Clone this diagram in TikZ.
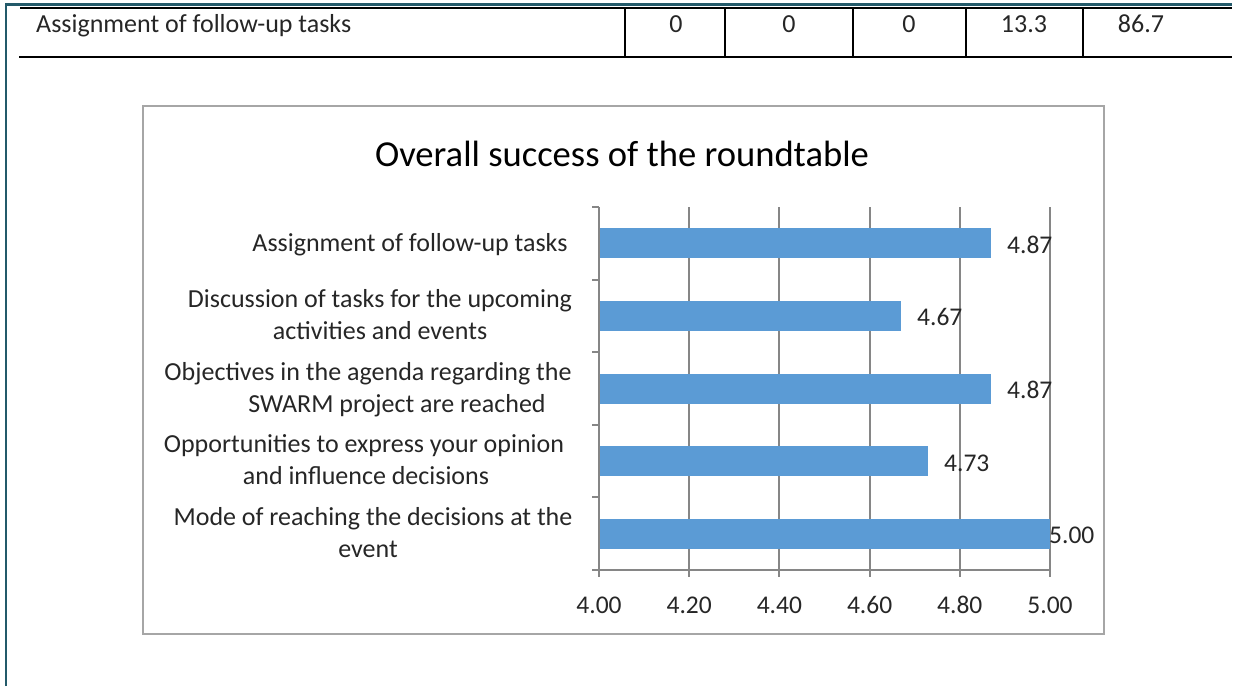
\documentclass[tikz,border=0pt]{standalone}
\usepackage{fontspec}
\setmainfont{Carlito}
\definecolor{teal}{RGB}{35,90,106}
\definecolor{framegray}{RGB}{166,166,166}
\definecolor{axisgray}{RGB}{134,134,134}
\definecolor{barblue}{RGB}{91,155,213}
\definecolor{txt}{RGB}{38,38,38}
\begin{document}
\begin{tikzpicture}[x=1pt,y=-1pt,
  lbl/.style={inner sep=0pt,text=txt,font=\fontsize{26}{30}\selectfont,text height=18,text depth=4},
  num/.style={inner sep=0pt,text=txt,font=\fontsize{25.5}{30}\selectfont,text height=18,text depth=4},
  tbl/.style={inner sep=0pt,text=txt,font=\fontsize{26}{30}\selectfont,text height=18,text depth=4},
  grid/.style={draw=axisgray,line width=2pt},
  tline/.style={draw=black,line width=1.8pt},
  bar/.style={fill=barblue,draw=none}]
\useasboundingbox (0,0) rectangle (1239,686);
% outer page borders
\draw[teal,line width=2.5pt] (6,686) -- (6,4.5) -- (1232,4.5);
% table row
\draw[tline] (20,8) -- (1232,8);
\draw[tline] (19,57) -- (1232,57);
\foreach \x in {625,725,853,966,1083} \draw[tline] (\x,8) -- (\x,57);
\node[tbl,anchor=west] (rowlbl) at (36,25) {Assignment of follow-up tasks};
\node[tbl] (v1) at (676,25) {0};
\node[tbl] (v2) at (789,25) {0};
\node[tbl] (v3) at (909,25) {0};
\node[tbl] (v4) at (1024,25) {13.3};
\node[tbl] (v5) at (1141,25) {86.7};
% chart frame
\draw[framegray,line width=2pt] (143,106) rectangle (1104,634);
\node[inner sep=0pt,text=black,font=\fontsize{36.6}{40}\selectfont] (title) at (622,154) {Overall success of the roundtable};
% gridlines
\foreach \i in {1,...,5} \draw[grid] ({599+90.2*\i},207) -- ({599+90.2*\i},577);
% axes
\draw[grid] (599,207) -- (599,577);
\draw[grid] (599,570) -- (1050,570);
\foreach \y in {207,279.6,352.2,424.8,497.4,570} \draw[grid] (592,\y) -- (599,\y);
% tick labels
\foreach \i/\t in {0/4.00,1/4.20,2/4.40,3/4.60,4/4.80,5/5.00}
  \node[num] (t\i) at ({599+90.2*\i},606) {\t};
% bars
\fill[bar] (600,228.3) rectangle (991.4,258.3);
\fill[bar] (600,300.9) rectangle (901.2,330.9);
\fill[bar] (600,373.5) rectangle (991.4,403.5);
\fill[bar] (600,446.1) rectangle (928.3,476.1);
\fill[bar] (600,518.7) rectangle (1050,548.7);
% data labels
\node[num,anchor=west] (d1) at (1007,246) {4.87};
\node[num,anchor=west] (d2) at (917,318) {4.67};
\node[num,anchor=west] (d3) at (1007,391) {4.87};
\node[num,anchor=west] (d4) at (944,464) {4.73};
\node[num,anchor=west] (d5) at (1049,536) {5.00};
% category labels
\node[lbl] (c1) at (410,244) {Assignment of follow-up tasks};
\node[lbl] (c2a) at (380,300) {Discussion of tasks for the upcoming};
\node[lbl] (c2b) at (380,332) {activities and events};
\node[lbl] (c3a) at (368,373) {Objectives in the agenda regarding the};
\node[lbl] (c3b) at (397,405) {SWARM project are reached};
\node[lbl] (c4a) at (364,445) {Opportunities to express your opinion};
\node[lbl] (c4b) at (366,477) {and influence decisions};
\node[lbl] (c5a) at (373,518) {Mode of reaching the decisions at the};
\node[lbl] (c5b) at (368,550) {event};
\end{tikzpicture}
\end{document}
